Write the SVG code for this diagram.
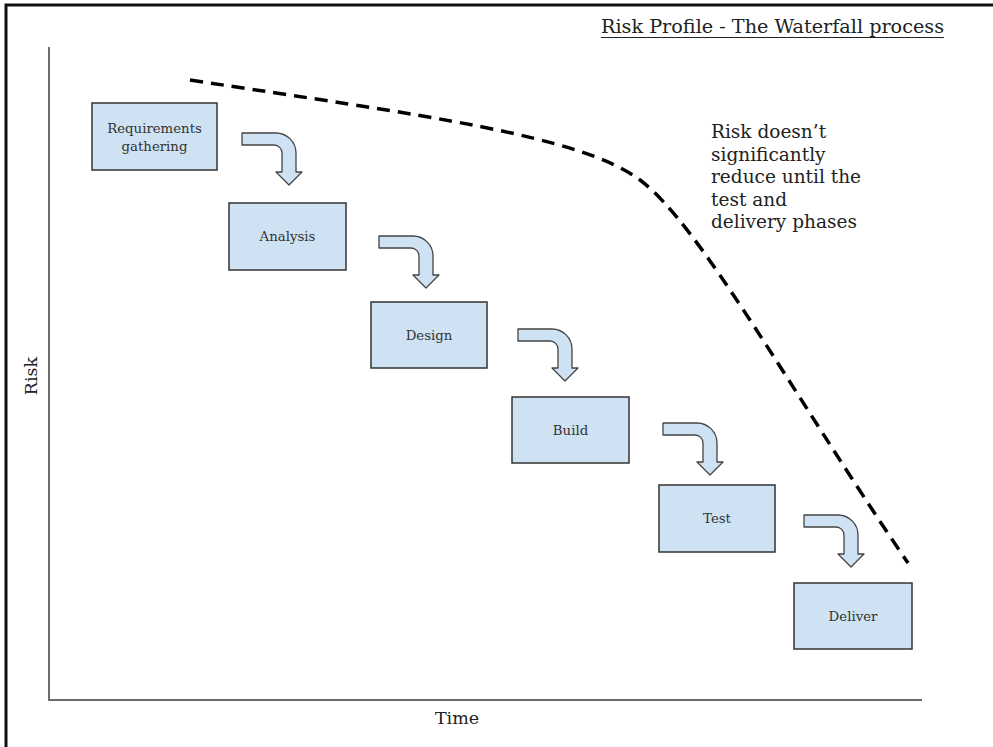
<svg xmlns="http://www.w3.org/2000/svg" width="993" height="747" viewBox="0 0 993 747">
  <style>
    .frame { fill: none; stroke: #111; stroke-width: 3; }
    .axis { fill: none; stroke: #6b6b6b; stroke-width: 2; }
    .box { fill: #cfe2f3; stroke: #333; stroke-width: 1.5; }
    .bend { fill: #cfe2f3; stroke: #444; stroke-width: 1.3; stroke-linejoin: round; }
    .risk { fill: none; stroke: #000; stroke-width: 3.5; stroke-dasharray: 13 8; }
    .label { font-family: "DejaVu Serif", "Liberation Serif", serif; font-size: 13.3px; fill: #333; text-anchor: middle; }
    .note { font-family: "DejaVu Serif", "Liberation Serif", serif; font-size: 18.5px; fill: #222; }
    .title { font-family: "DejaVu Serif", "Liberation Serif", serif; font-size: 18.5px; fill: #222; }
    .axislabel { font-family: "DejaVu Serif", "Liberation Serif", serif; font-size: 17.5px; fill: #222; text-anchor: middle; }
  </style>
  <defs>
    <!-- bent arrow: horizontal bar turning down into an arrowhead -->
    <path id="bend-arrow" class="bend" d="M0,0 H34 A20,20 0 0 1 54,20 V39 H60 L47,52 L34,39 H40 V20 A8,8 0 0 0 32,12 H0 Z"/>
  </defs>

  <rect class="frame" x="6" y="5" width="1000" height="1000"/>

  <!-- title -->
  <text class="title" x="601" y="33" textLength="343" lengthAdjust="spacingAndGlyphs">Risk Profile - The Waterfall process</text>
  <line x1="601" y1="37.5" x2="944" y2="37.5" stroke="#222" stroke-width="1.2"/>

  <!-- axes -->
  <g id="axes">
    <path class="axis" d="M49,47 V700 H922"/>
    <text class="axislabel" x="457" y="724">Time</text>
    <text class="axislabel" transform="translate(37,376) rotate(-90)">Risk</text>
  </g>

  <!-- risk curve -->
  <path class="risk" d="M190,80 C420,115 580,135 640,180 C700,225 790,390 908,563"/>

  <text class="note">
    <tspan x="711" y="138">Risk doesn’t</tspan>
    <tspan x="711" y="160.5">significantly</tspan>
    <tspan x="711" y="183">reduce until the</tspan>
    <tspan x="711" y="205.5">test and</tspan>
    <tspan x="711" y="228">delivery phases</tspan>
  </text>

  <!-- phases -->
  <g id="requirements">
    <rect class="box" x="92" y="103" width="125" height="67"/>
    <text class="label" x="154.5" y="133">Requirements</text>
    <text class="label" x="154.5" y="151">gathering</text>
  </g>
  <g id="analysis">
    <rect class="box" x="229" y="203" width="117" height="67"/>
    <text class="label" x="287.5" y="241">Analysis</text>
  </g>
  <g id="design">
    <rect class="box" x="371" y="302" width="116" height="66"/>
    <text class="label" x="429" y="340">Design</text>
  </g>
  <g id="build">
    <rect class="box" x="512" y="397" width="117" height="66"/>
    <text class="label" x="570.5" y="435">Build</text>
  </g>
  <g id="test">
    <rect class="box" x="659" y="485" width="116" height="67"/>
    <text class="label" x="717" y="523">Test</text>
  </g>
  <g id="deliver">
    <rect class="box" x="794" y="583" width="118" height="66"/>
    <text class="label" x="853" y="621">Deliver</text>
  </g>

  <!-- connectors between phases -->
  <g id="connectors">
    <use href="#bend-arrow" x="242" y="133"/>
    <use href="#bend-arrow" x="379" y="236"/>
    <use href="#bend-arrow" x="518" y="329"/>
    <use href="#bend-arrow" x="663" y="423"/>
    <use href="#bend-arrow" x="804" y="515"/>
  </g>
</svg>
